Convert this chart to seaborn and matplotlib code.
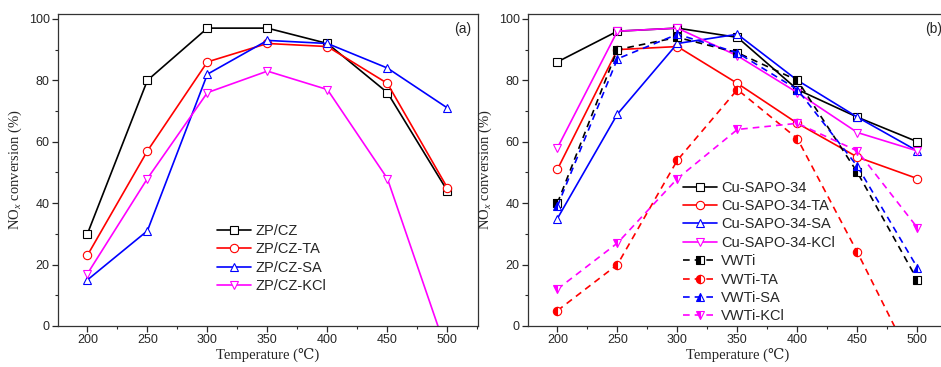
import matplotlib
matplotlib.use('Agg')
import matplotlib.pyplot as plt
from matplotlib.ticker import MultipleLocator
import seaborn as sns

# 데이터
temps = [200, 250, 300, 350, 400, 450, 500]

# (a) ZP/CZ 계열
zp_cz = [30, 80, 97, 97, 92, 76, 44]
zp_cz_ta = [23, 57, 86, 92, 91, 79, 45]
zp_cz_sa = [15, 31, 82, 93, 92, 84, 71]
zp_cz_kcl = [17, 48, 76, 83, 77, 48, -9]

# (b) Cu-SAPO-34 / VWTi 계열
cu_sapo = [86, 96, 97, 94, 77, 68, 60]
cu_sapo_ta = [51, 90, 91, 79, 66, 55, 48]
cu_sapo_sa = [35, 69, 92, 95, 80, 68, 57]
cu_sapo_kcl = [58, 96, 97, 88, 76, 63, 57]
vwti = [40, 90, 94, 89, 80, 50, 15]
vwti_ta = [5, 20, 54, 77, 61, 24, -15]
vwti_sa = [39, 87, 95, 89, 77, 52, 19]
vwti_kcl = [12, 27, 48, 64, 66, 57, 32]

labels_a = ['ZP/CZ', 'ZP/CZ-TA', 'ZP/CZ-SA', 'ZP/CZ-KCl']
labels_b = ['Cu-SAPO-34', 'Cu-SAPO-34-TA', 'Cu-SAPO-34-SA', 'Cu-SAPO-34-KCl',
            'VWTi', 'VWTi-TA', 'VWTi-SA', 'VWTi-KCl']

colors = ['black', '#ff0000', '#0000ff', '#ff00ff']
markers = ['s', 'o', '^', 'v']

sns.set_style('ticks')
plt.rcParams['font.family'] = ['Liberation Sans', 'DejaVu Sans']
plt.rcParams['mathtext.fontset'] = 'custom'
plt.rcParams['mathtext.rm'] = 'Liberation Serif'
plt.rcParams['mathtext.it'] = 'Liberation Serif:italic'

fig = plt.figure(figsize=(9.41, 3.67), dpi=100)
ax_a = fig.add_axes([58 / 941, 41 / 367, 420 / 941, 312 / 367])
ax_b = fig.add_axes([528 / 941, 41 / 367, 420 / 941, 312 / 367])

serif = ['Liberation Serif', 'DejaVu Serif']

def open_line(ax, y, c, m, lab):
    sns.lineplot(x=temps, y=y, ax=ax, color=c, marker=m, markersize=6,
                 markerfacecolor='white', markeredgecolor=c, markeredgewidth=0.8,
                 linewidth=1.2, label=lab)

def half_line(ax, y, c, m, lab):
    sns.lineplot(x=temps, y=y, ax=ax, color=c, marker=m, markersize=6,
                 fillstyle='left', markerfacecolor=c, markerfacecoloralt='white',
                 markeredgecolor=c, markeredgewidth=0.8,
                 linewidth=1.2, linestyle=(0, (4, 3)), label=lab)

for y, c, m, lab in zip([zp_cz, zp_cz_ta, zp_cz_sa, zp_cz_kcl], colors, markers, labels_a):
    open_line(ax_a, y, c, m, lab)

for y, c, m, lab in zip([cu_sapo, cu_sapo_ta, cu_sapo_sa, cu_sapo_kcl], colors, markers, labels_b[:4]):
    open_line(ax_b, y, c, m, lab)
for y, c, m, lab in zip([vwti, vwti_ta, vwti_sa, vwti_kcl], colors, markers, labels_b[4:]):
    half_line(ax_b, y, c, m, lab)

for ax, tag, leg_pos in [(ax_a, '(a)', (0.379, 0.216)), (ax_b, '(b)', (0.369, 0.237))]:
    ax.set_xlim(175.5, 525.5)
    ax.set_ylim(0, 101.6)
    ax.xaxis.set_major_locator(MultipleLocator(50))
    ax.xaxis.set_minor_locator(MultipleLocator(25))
    ax.yaxis.set_major_locator(MultipleLocator(20))
    ax.yaxis.set_minor_locator(MultipleLocator(10))
    ax.tick_params(which='major', direction='out', length=4, width=0.9, labelsize=9, pad=2)
    ax.tick_params(which='minor', direction='out', length=2.5, width=0.8)
    for s in ax.spines.values():
        s.set_linewidth(0.9)
        s.set_color('#333333')
    ax.set_xlabel('Temperature (℃)', family=serif, fontsize=10.5, labelpad=1)
    ax.set_ylabel('NO$_x$ conversion (%)', family=serif, fontsize=10.5, labelpad=3)
    ax.text(0.985, 0.975, tag, transform=ax.transAxes, ha='right', va='top', fontsize=10)
    ax.legend(loc='center left', bbox_to_anchor=leg_pos, frameon=False, fontsize=10.5,
              handlelength=2.3, handletextpad=0.3, labelspacing=0.3,
              borderaxespad=0, borderpad=0)

fig.savefig('out.png', dpi=100)
